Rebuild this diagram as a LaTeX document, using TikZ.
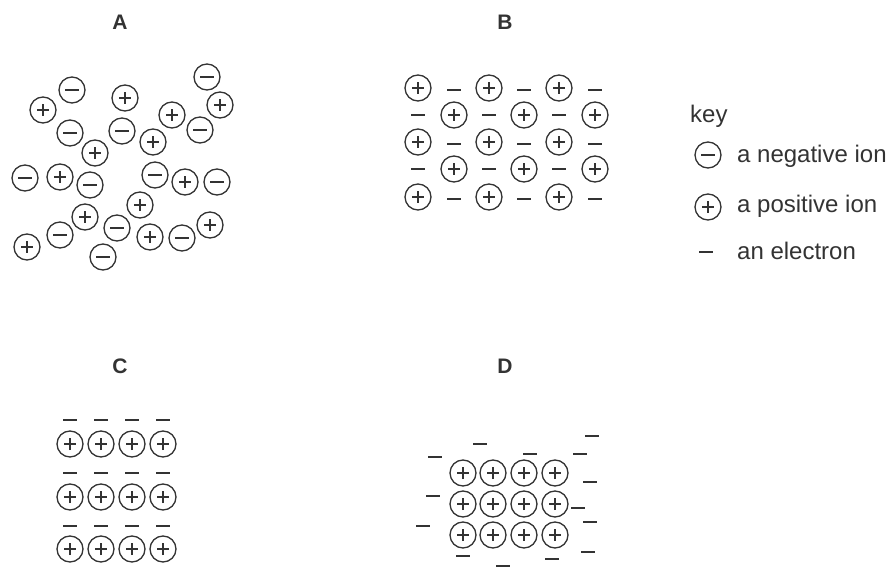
\documentclass[tikz,border=0pt]{standalone}
\usepackage{fontspec}
\setmainfont{Liberation Sans}
\usetikzlibrary{calc}
\definecolor{ink}{HTML}{333333}
\tikzset{
  ion/.style={circle, draw=ink, line width=1.3pt, minimum size=26pt, inner sep=0pt},
  posion/.style={ion, path picture={
    \draw[ink, line width=1.3pt]
      ($(path picture bounding box.center)+(-6pt,0)$) -- ++(12pt,0)
      ($(path picture bounding box.center)+(0,-6pt)$) -- ++(0,12pt);}},
  negion/.style={ion, path picture={
    \draw[ink, line width=1.3pt]
      ($(path picture bounding box.center)+(-7pt,0)$) -- ++(14pt,0);}},
  elec/.style={rectangle, fill=ink, draw=none, minimum width=14pt, minimum height=1.5pt, inner sep=0pt},
  panel/.style={font=\bfseries\fontsize{21}{24}\selectfont, text=ink, anchor=base, inner sep=0pt},
  keytext/.style={font=\fontsize{24}{27}\selectfont, text=ink, anchor=base west, inner sep=0pt}
}
\begin{document}
\begin{tikzpicture}[x=1pt,y=-1pt]
\useasboundingbox (0,0) rectangle (894,569);
% panel labels
\node[panel] (lA) at (120,30) {A};
\node[panel] (lB) at (505,30) {B};
\node[panel] (lC) at (120,373) {C};
\node[panel] (lD) at (505,373) {D};
% ---- A
\foreach \x/\y [count=\i] in {72/90,207/77,200/130,70/133,122/131,25/178,90/185,155/175,217/182,60/235,117/228,182/238,103/257}
  \node[negion] (an\i) at (\x,\y) {};
\foreach \x/\y [count=\i] in {43/110,125/98,220/105,172/115,153/142,95/153,60/177,185/182,140/205,85/217,27/247,150/237,210/225}
  \node[posion] (ap\i) at (\x,\y) {};
% ---- B
\foreach \y [count=\r] in {88,142,197}{
  \foreach \x [count=\c] in {418,489,559}
    \node[posion] (bp\r\c) at (\x,\y) {};
  \foreach \x [count=\c] in {454,524,595}
    \node[elec] (be\r\c) at (\x,\y+2) {};
}
\foreach \y [count=\r] in {115,169}{
  \foreach \x [count=\c] in {454,524,595}
    \node[posion] (bq\r\c) at (\x,\y) {};
  \foreach \x [count=\c] in {418,489,559}
    \node[elec] (bf\r\c) at (\x,\y) {};
}
% ---- key
\node[keytext] (key) at (690,123) {key};
\node[negion] (kneg) at (708,155) {};
\node[keytext] (tneg) at (737,163) {a negative ion};
\node[posion] (kpos) at (708,207) {};
\node[keytext] (tpos) at (737,213) {a positive ion};
\node[elec] (kel) at (706,252) {};
\node[keytext] (tel) at (737,260) {an electron};
% ---- C
\foreach \y [count=\r] in {444,497,549}
  \foreach \x [count=\c] in {70,101,132,163}
    \node[posion] (cp\r\c) at (\x,\y) {};
\foreach \y [count=\r] in {420,473,526}
  \foreach \x [count=\c] in {70,101,132,163}
    \node[elec] (ce\r\c) at (\x,\y) {};
% ---- D
\foreach \y [count=\r] in {473,504,535}
  \foreach \x [count=\c] in {463,493,524,555}
    \node[posion] (dp\r\c) at (\x,\y) {};
\foreach \x/\y [count=\i] in {480/444,435/457,530/454,580/454,592/436,590/482,433/496,578/508,423/526,590/522,463/556,552/559,503/566,588/552}
  \node[elec] (de\i) at (\x,\y) {};
\end{tikzpicture}
\end{document}
